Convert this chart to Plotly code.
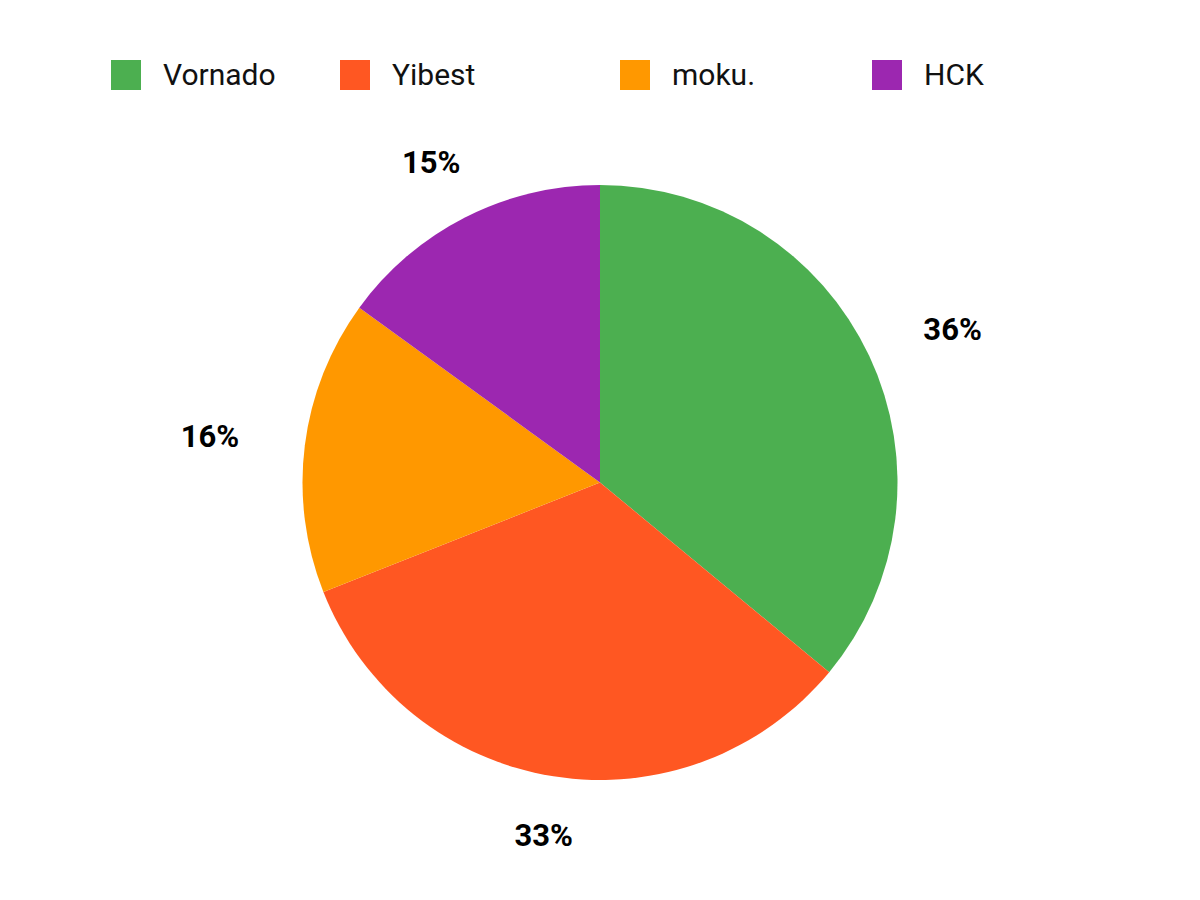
import numpy as np
import plotly.graph_objects as go

# Pie data
brands = ["Vornado", "Yibest", "moku.", "HCK"]
shares = [36, 33, 16, 15]
colors = ["#4CAF50", "#FF5722", "#FF9800", "#9C27B0"]

W, H = 1200, 900
OFF = 8  # page body margin, figure starts 8px in
cx, cy, R = 600 - OFF, 482.5 - OFF, 297.5   # pie centre / radius in figure pixels
legend_x = [x - OFF for x in [126, 355, 635, 887]]  # swatch centres
legend_y = 75 - OFF

fig = go.Figure()

fig.add_trace(go.Pie(
    labels=brands, values=shares,
    marker=dict(colors=colors, line=dict(width=0)),
    sort=False, direction="clockwise", rotation=0,
    textinfo="none", showlegend=False,
    domain=dict(x=[(cx - R) / W, (cx + R) / W],
                y=[1 - (cy + R) / H, 1 - (cy - R) / H]),
))

# outside percentage labels, placed from the slice mid angles
vals = np.array(shares, dtype=float)
frac = vals / vals.sum()
mid = (np.cumsum(frac) - frac / 2) * 2 * np.pi
dx, dy = np.sin(mid), -np.cos(mid)
gap = 56
lx = cx + dx * (R + gap + 40 * np.abs(dx))
ly = cy + dy * (R + gap + 5 * np.abs(dy)) + 1.5
pct = [f"{round(f * 100)}%" for f in frac]

fig.add_trace(go.Scatter(
    x=lx, y=ly, mode="text", text=pct, textposition="middle center",
    textfont=dict(family="Roboto", size=31, color="#000000", weight="bold"),
    hoverinfo="skip", showlegend=False,
))

# legend row drawn with square markers
fig.add_trace(go.Scatter(
    x=legend_x, y=[legend_y] * len(brands), mode="markers",
    marker=dict(symbol="square", size=30, color=colors, line=dict(width=0)),
    hoverinfo="skip", showlegend=False,
))
fig.add_trace(go.Scatter(
    x=[x + 37 for x in legend_x], y=[legend_y + 2] * len(brands), mode="text",
    text=brands, textposition="middle right",
    textfont=dict(family="Roboto", size=30, color="#111111"),
    hoverinfo="skip", showlegend=False,
))

fig.update_layout(
    width=W, height=H,
    margin=dict(l=0, r=0, t=0, b=0),
    paper_bgcolor="white", plot_bgcolor="white",
    xaxis=dict(range=[0, W], visible=False, fixedrange=True),
    yaxis=dict(range=[H, 0], visible=False, fixedrange=True),
    font=dict(family="Roboto"),
)

fig.write_html("out.html")
